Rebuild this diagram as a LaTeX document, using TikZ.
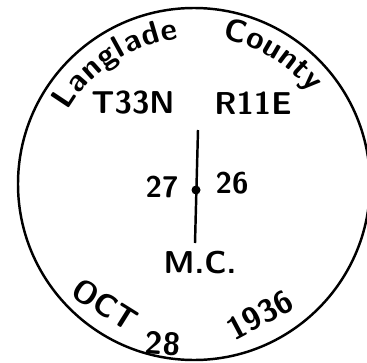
\documentclass[tikz,border=0pt]{standalone}
\usetikzlibrary{decorations.text}

\newcommand{\handfont}{\sffamily\bfseries\fontsize{18}{22}\selectfont}
\tikzset{
    hand/.style={font=\handfont, inner sep=0pt},
    numb/.style={font=\sffamily\bfseries\fontsize{17}{20}\selectfont, inner sep=0pt},
}

\begin{document}
\begin{tikzpicture}
    \useasboundingbox (0,0) rectangle (7.34,7.24);
    \coordinate (ctr) at (3.88,3.56);

    % Antspaudo apskritimas
    \draw[line width=1.4pt] (ctr) circle[radius=3.52];

    % Uzrasai virsuje (lankais)
    \path[decorate, decoration={text along path, text={|\handfont|Langlade},
        text align={fit to path}}]
        ([shift={(150:2.92)}]ctr) arc[start angle=150, end angle=96, radius=2.92];
    \path[decorate, decoration={text along path, text={|\handfont|County},
        text align={fit to path}}]
        ([shift={(79:2.96)}]ctr) arc[start angle=79, end angle=38, radius=2.96];

    \node[hand] (town) at (2.66,5.18) {T33N};
    \node[hand] (range) at (5.06,5.18) {R11E};

    % Sekciju riba ir kampas
    \coordinate (top) at (3.96,4.64);
    \coordinate (bot) at (3.90,2.38);
    \draw[line width=1.4pt] (top) -- (bot);
    \node[circle, fill, inner sep=0pt, minimum size=0.18cm] (corner) at (3.92,3.44) {};
    \node[numb] (sw) at (3.24,3.50) {27};
    \node[numb] (se) at (4.64,3.58) {26};
    \node[hand] (mc) at (4.00,1.98) {M.C.};

    % Data apacioje
    \node[hand, rotate=-32] (month) at (2.10,1.14) {OCT};
    \node[hand, rotate=-4] (day) at (3.26,0.36) {28};
    \node[hand, rotate=28] (year) at (5.20,0.94) {1936};
\end{tikzpicture}
\end{document}
